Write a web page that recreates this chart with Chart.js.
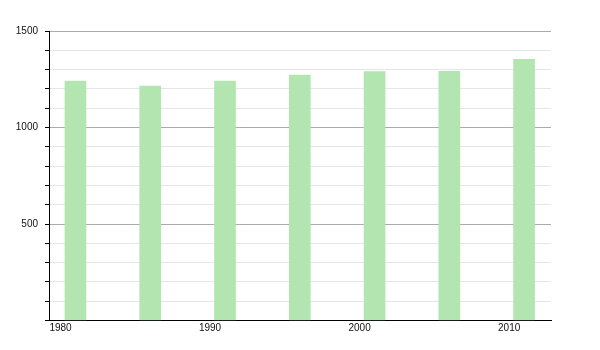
<!DOCTYPE html>
<html>
<head>
<meta charset="utf-8">
<script src="https://cdn.jsdelivr.net/npm/chart.js@4.4.1/dist/chart.umd.min.js"></script>
<style>
  body { margin: 0; background: #fff; }
  canvas { display: block; }
</style>
</head>
<body>
<canvas id="grafico" width="600" height="350"></canvas>
<script>
// datos
const anios = [1981, 1986, 1991, 1996, 2001, 2006, 2011];
const poblacion = [1240, 1214, 1240, 1271, 1290, 1291, 1353];
const ticksX = [1980, 1990, 2000, 2010];
const etiquetasY = [500, 1000, 1500];

const X_MIN = 1979.23, X_MAX = 2012.8;

const puntos = anios.map((a, i) => ({ x: a, y: poblacion[i] }));

const ctx = document.getElementById("grafico");
new Chart(ctx, {
    type: "bar",
    data: {
        datasets: [{
            data: puntos,
            backgroundColor: "#b2e5b0",
            borderWidth: 0,
            barThickness: 21
        }]
    },
    options: {
        responsive: false,
        animation: false,
        devicePixelRatio: 1,
        layout: { padding: { top: 31, right: 49, bottom: 0, left: 0 } },
        plugins: { legend: { display: false }, tooltip: { enabled: false } },
        scales: {
            x: {
                type: "linear",
                min: X_MIN,
                max: X_MAX,
                offset: false,
                grid: { display: false, drawTicks: false, offset: false },
                border: { display: true, color: "#000", width: 1 },
                afterBuildTicks: s => { s.ticks = ticksX.map(v => ({ value: v })); },
                afterFit: s => { s.height = 29.5; },
                ticks: {
                    padding: 2,
                    maxRotation: 0,
                    autoSkip: false,
                    color: "#111",
                    font: { family: "'Liberation Sans', Arial, sans-serif", size: 10 },
                    callback: v => String(v)
                }
            },
            y: {
                min: 0,
                max: 1500,
                afterFit: s => { s.width = 49; },
                grid: {
                    color: c => (c.tick && c.tick.value % 500 === 0) ? "#aaaaaa" : "#e6e6e6",
                    tickColor: "#000",
                    tickLength: 4,
                    drawTicks: true
                },
                border: { display: true, color: "#000", width: 1 },
                ticks: {
                    stepSize: 100,
                    padding: 7,
                    autoSkip: false,
                    color: "#111",
                    font: { family: "'Liberation Sans', Arial, sans-serif", size: 10 },
                    callback: v => etiquetasY.includes(v) ? String(v) : ""
                }
            }
        }
    }
});
</script>
</body>
</html>
